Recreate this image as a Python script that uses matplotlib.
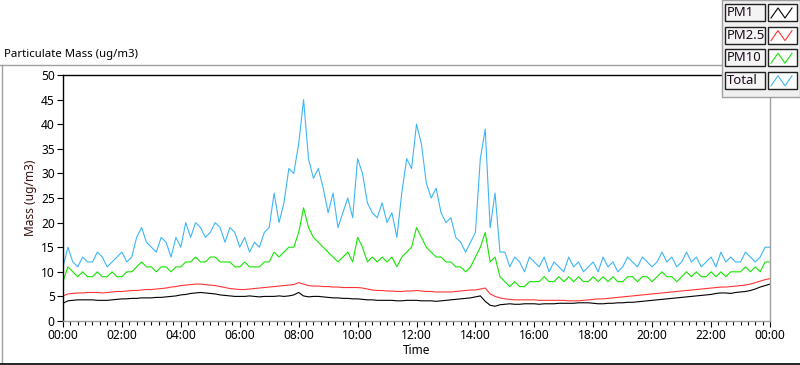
import numpy as np
import matplotlib
matplotlib.use("Agg")
import matplotlib.pyplot as plt
from matplotlib.lines import Line2D
from matplotlib.patches import Rectangle
import matplotlib.ticker as ticker

# ── data: 10-minute samples over one day ─────────────────────────────
hours = np.arange(0, 145) / 6.0

total = [
    11, 15, 12, 11, 13, 12,
    12, 14, 13, 11, 12, 13,
    14, 12, 13, 17, 19, 16,
    15, 14, 17, 16, 13, 17,
    15, 20, 17, 20, 19, 17,
    18, 20, 19, 16, 19, 18,
    15, 17, 14, 16, 15, 18,
    19, 26, 20, 24, 31, 30,
    36, 45, 33, 29, 31, 27,
    22, 26, 19, 22, 25, 21,
    33, 30, 24, 22, 21, 24,
    20, 22, 17, 26, 33, 31,
    40, 36, 28, 25, 27, 22,
    20, 21, 17, 16, 14, 16,
    18, 33, 39, 19, 26, 14,
    14, 11, 13, 12, 10, 13,
    12, 11, 13, 10, 12, 11,
    10, 13, 11, 12, 10, 11,
    12, 10, 13, 11, 12, 10,
    11, 13, 12, 11, 13, 12,
    11, 12, 14, 12, 13, 11,
    12, 14, 12, 13, 11, 12,
    13, 11, 14, 12, 13, 12,
    12, 14, 13, 12, 13, 15,
    15,
]

pm10 = [
    8, 11, 10, 9, 10, 9,
    9, 10, 9, 9, 10, 9,
    9, 10, 10, 11, 12, 11,
    11, 10, 11, 11, 10, 11,
    11, 12, 12, 13, 12, 12,
    13, 13, 12, 12, 12, 11,
    11, 12, 11, 11, 11, 12,
    12, 14, 13, 14, 15, 15,
    18, 23, 19, 17, 16, 15,
    14, 13, 12, 13, 14, 12,
    17, 15, 12, 13, 12, 13,
    12, 13, 11, 13, 14, 15,
    19, 17, 15, 14, 13, 13,
    12, 12, 11, 11, 10, 11,
    13, 15, 18, 12, 13, 9,
    8, 7, 8, 7, 7, 8,
    8, 8, 9, 8, 8, 9,
    8, 9, 8, 9, 8, 8,
    9, 8, 9, 8, 9, 8,
    8, 9, 9, 8, 9, 9,
    8, 9, 10, 9, 9, 8,
    9, 10, 9, 10, 9, 9,
    10, 9, 10, 9, 10, 10,
    10, 11, 10, 11, 10, 12,
    12,
]

pm25 = [
    5.1, 5.5, 5.6, 5.7, 5.7, 5.8,
    5.8, 5.8, 5.7, 5.8, 5.9, 6.0,
    6.0, 6.1, 6.2, 6.2, 6.3, 6.4,
    6.4, 6.5, 6.6, 6.7, 6.9, 7.0,
    7.2, 7.3, 7.4, 7.5, 7.5, 7.4,
    7.3, 7.2, 7.0, 6.8, 6.6, 6.5,
    6.4, 6.4, 6.5, 6.6, 6.7, 6.8,
    6.9, 7.0, 7.1, 7.2, 7.3, 7.4,
    7.8, 7.5, 7.2, 7.1, 7.1, 7.0,
    7.0, 6.9, 6.9, 6.8, 6.8, 6.8,
    6.8, 6.7, 6.5, 6.3, 6.2, 6.2,
    6.1, 6.1, 6.0, 6.0, 6.1, 6.1,
    6.2, 6.1, 6.0, 6.0, 5.9, 5.9,
    5.9, 5.9, 6.0, 6.1, 6.2, 6.3,
    6.3, 6.5, 6.7, 5.5, 5.0, 4.7,
    4.5, 4.4, 4.3, 4.3, 4.3, 4.3,
    4.3, 4.2, 4.2, 4.2, 4.2, 4.2,
    4.2, 4.1, 4.1, 4.1, 4.2, 4.3,
    4.4, 4.5, 4.5, 4.6, 4.7, 4.8,
    4.9, 5.0, 5.1, 5.2, 5.3, 5.4,
    5.5, 5.6, 5.7, 5.8, 5.9, 6.0,
    6.1, 6.2, 6.3, 6.4, 6.5, 6.6,
    6.7, 6.8, 6.9, 6.9, 7.0, 7.1,
    7.2, 7.3, 7.5, 7.8, 8.1, 8.4,
    8.6,
]

pm1 = [
    3.6, 4.1, 4.2, 4.3, 4.3, 4.3,
    4.3, 4.2, 4.2, 4.2, 4.3, 4.4,
    4.5, 4.5, 4.6, 4.6, 4.7, 4.7,
    4.7, 4.8, 4.8, 4.9, 5.0, 5.1,
    5.3, 5.4, 5.6, 5.7, 5.8, 5.7,
    5.6, 5.5, 5.3, 5.2, 5.1, 5.0,
    5.0, 5.0, 5.1, 5.0, 4.9, 5.0,
    5.0, 5.0, 5.1, 5.0, 5.1, 5.3,
    5.8, 5.1, 4.9, 5.0, 5.0, 4.9,
    4.8, 4.7, 4.7, 4.6, 4.6, 4.5,
    4.5, 4.4, 4.3, 4.3, 4.2, 4.2,
    4.2, 4.2, 4.1, 4.1, 4.2, 4.2,
    4.2, 4.1, 4.1, 4.1, 4.0, 4.1,
    4.2, 4.3, 4.4, 4.5, 4.6, 4.7,
    4.9, 5.1, 4.0, 3.2, 3.0, 3.3,
    3.4, 3.5, 3.4, 3.4, 3.5, 3.5,
    3.5, 3.4, 3.5, 3.5, 3.5, 3.6,
    3.6, 3.6, 3.6, 3.7, 3.7, 3.7,
    3.6, 3.5, 3.5, 3.6, 3.6, 3.7,
    3.7, 3.8, 3.8, 3.9, 4.0, 4.1,
    4.2, 4.3, 4.4, 4.5, 4.6, 4.7,
    4.8, 4.9, 5.0, 5.1, 5.2, 5.3,
    5.4, 5.6, 5.7, 5.7, 5.6, 5.8,
    5.9, 6.0, 6.2, 6.5, 6.9, 7.2,
    7.5,
]

series_names = ["PM1", "PM2.5", "PM10", "Total"]
series_values = [pm1, pm25, pm10, total]
series_colors = ["#000000", "#ff3535", "#14e600", "#3db6f5"]

y_ticks = [0, 5, 10, 15, 20, 25, 30, 35, 40, 45, 50]
x_tick_labels = ["00:00", "02:00", "04:00", "06:00", "08:00", "10:00", "12:00",
                 "14:00", "16:00", "18:00", "20:00", "22:00", "00:00"]

plt.rcParams["font.family"] = ["Noto Sans", "DejaVu Sans"]

W, H = 800, 365
fig = plt.figure(figsize=(8.0, 3.65), dpi=100)
ax = fig.add_axes([63 / W, 1 - 321 / H, (770 - 63) / W, (321 - 75) / H])

for name, vals, col in zip(series_names, series_values, series_colors):
    ax.plot(hours, vals, color=col, linewidth=0.8, label=name)

ax.set_xlim(0, 24)
ax.set_ylim(0, 50)
ax.set_yticks(y_ticks)
ax.set_xticks(np.arange(0, 25, 2))
ax.set_xticklabels(x_tick_labels)
ax.xaxis.set_minor_locator(ticker.MultipleLocator(0.25))
ax.tick_params(axis="both", which="major", direction="out", length=4,
               width=0.8, labelsize=8.6, pad=2)
ax.tick_params(axis="x", which="minor", direction="out", length=3, width=0.8)
ax.tick_params(axis="y", which="minor", left=False)

ax.spines["top"].set_color("black")
ax.spines["left"].set_color("black")
ax.spines["right"].set_color("#a0a0a0")
ax.spines["bottom"].set_color("#a0a0a0")
for s in ax.spines.values():
    s.set_linewidth(1.0)

ax.set_xlabel("Time", fontsize=8.6, labelpad=1)
ax.set_ylabel("Mass (ug/m3)", fontsize=8.6, color="#3a1010", labelpad=3)

# chart title and outer frame
fig.text(4 / W, 1 - 55 / H, "Particulate Mass (ug/m3)", fontsize=8.2,
         ha="left", va="center")
fig.add_artist(Line2D([0, 722 / W], [1 - 65 / H, 1 - 65 / H],
                      color="#a0a0a0", linewidth=1.0))
fig.add_artist(Line2D([1.5 / W, 1.5 / W], [1 - 65 / H, 1 - 363 / H],
                      color="#a0a0a0", linewidth=1.0))
fig.add_artist(Line2D([0, 1], [1 - 363.5 / H, 1 - 363.5 / H],
                      color="black", linewidth=1.2))

# legend panel (top right)
fig.add_artist(Rectangle((722 / W, 1 - 97 / H), 78 / W, 97 / H,
                         facecolor="#f0f0f0", edgecolor="#a0a0a0",
                         linewidth=1.0))
row_h = 22.6
for i, (name, col) in enumerate(zip(series_names, series_colors)):
    top = 4 + i * row_h
    bot = top + 17
    fig.add_artist(Rectangle((725 / W, 1 - bot / H), 40 / W, 17 / H,
                             facecolor="#f4f4f4", edgecolor="#202020",
                             linewidth=1.0))
    fig.text(727 / W, 1 - (top + 8.5) / H, name, fontsize=9.4,
             ha="left", va="center", color="#1a0a1a")
    fig.add_artist(Rectangle((768 / W, 1 - bot / H), 29 / W, 17 / H,
                             facecolor="white", edgecolor="#202020",
                             linewidth=1.0))
    zx = np.array([771, 778, 785, 792]) / W
    zy = 1 - np.array([bot - 3, top + 4, bot - 3, top + 4]) / H
    fig.add_artist(Line2D(zx, zy, color=col, linewidth=0.8))

fig.savefig("out.png", dpi=100)
